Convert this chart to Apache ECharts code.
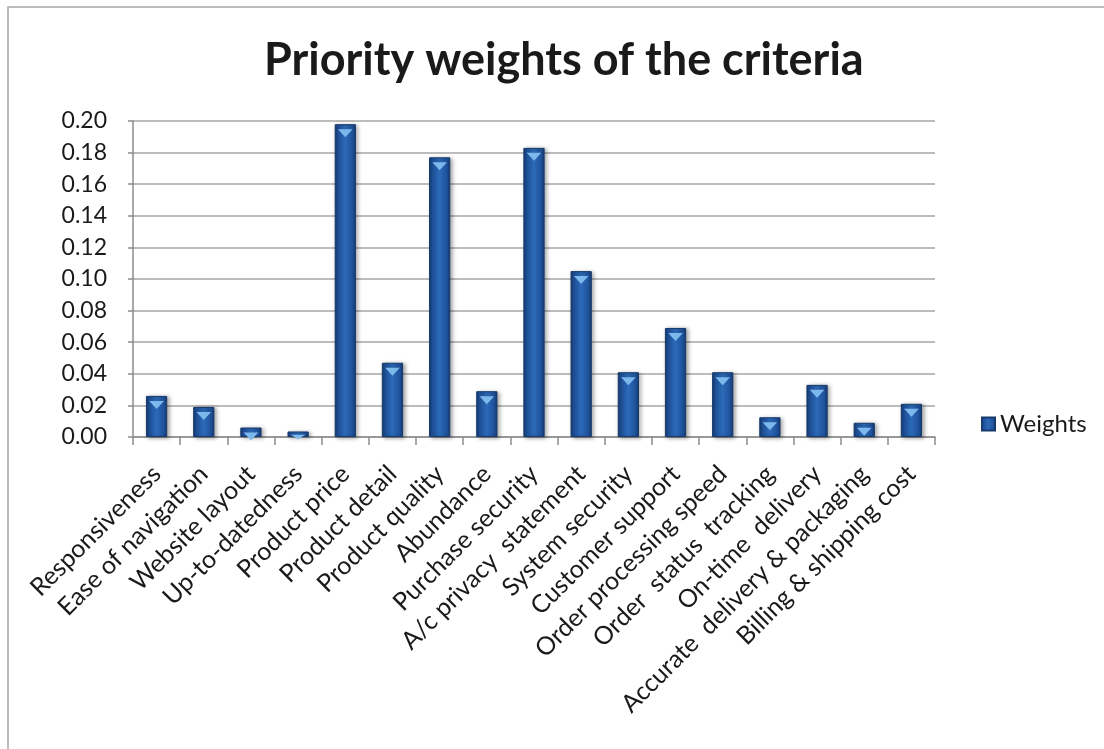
<!DOCTYPE html>
<html>
<head>
<meta charset="utf-8">
<script src="https://cdn.jsdelivr.net/npm/echarts@6/dist/echarts.min.js"></script>
<style>
  html, body { margin: 0; padding: 0; background: #fff; }
  #chart { width: 1104px; height: 749px; }
</style>
</head>
<body>
<div id="chart"></div>
<script>
// criteria names and their priority weights
var criteria = ['Responsiveness', 'Ease of navigation', 'Website layout', 'Up-to-datedness',
    'Product price', 'Product detail', 'Product quality', 'Abundance', 'Purchase security',
    'A/c privacy  statement', 'System security', 'Customer support', 'Order processing speed',
    'Order  status  tracking', 'On-time  delivery', 'Accurate  delivery & packaging',
    'Billing & shipping cost'];
var weights = [0.026, 0.019, 0.006, 0.0035, 0.198, 0.047, 0.177, 0.029, 0.183,
    0.105, 0.041, 0.069, 0.041, 0.0125, 0.033, 0.009, 0.021];
var yTicks = { min: 0, max: 0.2, step: 0.02 };

var font = 'Lato';
var plotHeight = 316;
var barFill = new echarts.graphic.LinearGradient(0, 0, 1, 0, [
    { offset: 0, color: '#15396b' },
    { offset: 0.15, color: '#1f519a' },
    { offset: 0.5, color: '#2c6ab8' },
    { offset: 0.85, color: '#1f519a' },
    { offset: 1, color: '#15396b' }
]);

// bevel highlight on top of each bar, kept inside short bars
var caps = weights.map(function (v) {
    var h = Math.min(8, v / yTicks.max * plotHeight - 1);
    return { value: v, symbolSize: ['45%', h], symbolOffset: [0, h / 2 + 1] };
});

var option = {
    backgroundColor: '#fff',
    animation: false,
    graphic: [{
        type: 'rect',
        shape: { x: 8, y: 7, width: 1110, height: 760 },
        style: { fill: 'none', stroke: '#a6a6a6', lineWidth: 1.5 },
        silent: true
    }],
    title: {
        text: 'Priority weights of the criteria',
        left: 259,
        top: 33,
        textStyle: { fontFamily: font, fontSize: 45, fontWeight: 'bold', color: '#1a1a1a' }
    },
    legend: {
        data: ['Weights'],
        left: 976,
        top: 407,
        itemWidth: 13,
        itemHeight: 13,
        itemGap: 5,
        icon: 'rect',
        textStyle: { fontFamily: font, fontSize: 24, color: '#1a1a1a' }
    },
    grid: { left: 133, right: 169, top: 121, bottom: 312 },
    xAxis: {
        type: 'category',
        data: criteria,
        axisLine: { lineStyle: { color: '#8c8c8c', width: 1.5 } },
        axisTick: { show: true, length: 8, lineStyle: { color: '#8c8c8c', width: 1.5 } },
        axisLabel: {
            interval: 0,
            rotate: 45,
            margin: 33,
            fontFamily: font,
            fontSize: 25,
            color: '#1a1a1a'
        }
    },
    yAxis: {
        type: 'value',
        min: yTicks.min,
        max: yTicks.max,
        interval: yTicks.step,
        axisLine: { show: true, lineStyle: { color: '#8c8c8c', width: 1.5 } },
        axisTick: { show: true, length: 5, lineStyle: { color: '#8c8c8c', width: 1.5 } },
        splitLine: { lineStyle: { color: '#a6a6a6', width: 1.5 } },
        axisLabel: {
            formatter: function (v) { return v.toFixed(2); },
            margin: 26,
            fontFamily: font,
            fontSize: 23,
            color: '#1a1a1a'
        }
    },
    series: [{
        name: 'Weights',
        type: 'bar',
        data: weights,
        barWidth: '45%',
        itemStyle: {
            color: barFill,
            borderColor: '#163a6c',
            borderWidth: 1,
            shadowColor: 'rgba(0,0,0,0.35)',
            shadowBlur: 4,
            shadowOffsetX: 2,
            shadowOffsetY: 1
        }
    }, {
        type: 'pictorialBar',
        data: caps,
        barGap: '-100%',
        symbol: 'path://M0,0 L10,0 L5,4 Z',
        symbolPosition: 'end',
        itemStyle: { color: '#7db8ec' },
        silent: true,
        z: 3
    }]
};

var myChart = echarts.init(document.getElementById('chart'));
myChart.setOption(option);
</script>
</body>
</html>
